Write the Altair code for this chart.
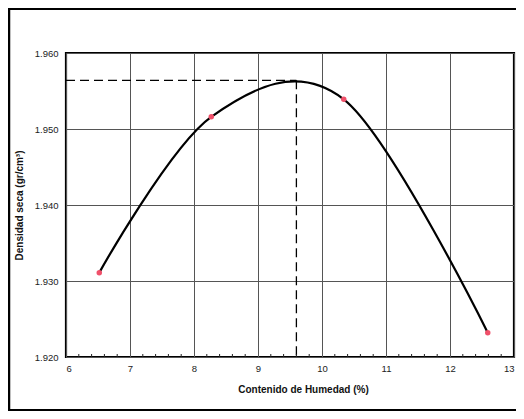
import altair as alt
import pandas as pd

# Measured points (moisture %, dry density g/cm3)
moisture = [6.52, 8.27, 10.34, 12.59]
density = [1.9311, 1.9516, 1.9539, 1.9232]

# Optimum
opt_x = [9.6]
opt_y = [1.9564]

x_ticks = [6, 7, 8, 9, 10, 11, 12, 13]
y_ticks = [1.920, 1.930, 1.940, 1.950, 1.960]
minor_x_ticks = [6.2, 6.4, 6.6, 6.8, 7.2, 7.4, 7.6, 7.8, 8.2, 8.4, 8.6, 8.8,
                 9.2, 9.4, 9.6, 9.8, 10.2, 10.4, 10.6, 10.8, 11.2, 11.4, 11.6, 11.8,
                 12.2, 12.4, 12.6, 12.8]

pts = pd.DataFrame({"x": moisture, "y": density})
opt = pd.DataFrame({"x": opt_x, "y": opt_y, "x0": [6.0], "y0": [1.920]})
minor = pd.DataFrame({"x": minor_x_ticks})

xs = alt.Scale(domain=[6, 13], nice=False, zero=False)
ys = alt.Scale(domain=[1.920, 1.960], nice=False, zero=False)

xaxis = alt.Axis(values=x_ticks, title="Contenido de Humedad (%)", format="d",
                 grid=True, gridColor="#555", gridWidth=1, tickSize=0,
                 labelPadding=6, titlePadding=12, titleX=237,
                 domain=False)
yaxis = alt.Axis(values=y_ticks, title="Densidad seca (gr/cm³)", format=".3f",
                 grid=True, gridColor="#555", gridWidth=1, tickSize=0,
                 labelPadding=8, titlePadding=10, domain=False)

line = alt.Chart(pts).mark_line(color="black", strokeWidth=2.2, interpolate="cardinal").encode(
    x=alt.X("x:Q", scale=xs, axis=xaxis),
    y=alt.Y("y:Q", scale=ys, axis=yaxis),
)

dots = alt.Chart(pts).mark_circle(color="#f0506a", size=30, opacity=1).encode(
    x=alt.X("x:Q", scale=xs),
    y=alt.Y("y:Q", scale=ys),
)

minor_ticks = alt.Chart(minor).mark_rule(color="#222", strokeWidth=1).encode(
    x=alt.X("x:Q", scale=xs), y=alt.value(304), y2=alt.value(301)
)

hdash = alt.Chart(opt).mark_rule(color="black", strokeWidth=1.3, strokeDash=[9, 5]).encode(
    x=alt.X("x0:Q", scale=xs), x2="x:Q", y=alt.Y("y:Q", scale=ys)
)
vdash = alt.Chart(opt).mark_rule(color="black", strokeWidth=1.3, strokeDash=[9, 5]).encode(
    x=alt.X("x:Q", scale=xs), y=alt.Y("y:Q", scale=ys), y2="y0:Q"
)

frame_top = alt.Chart(opt).mark_rule(color="black", strokeWidth=2).encode(
    x=alt.value(-57), x2=alt.value(600), y=alt.value(-44)
)
frame_left = alt.Chart(opt).mark_rule(color="black", strokeWidth=2.5).encode(
    x=alt.value(-57), y=alt.value(-45), y2=alt.value(358)
)
frame_bottom = alt.Chart(opt).mark_rule(color="black", strokeWidth=2).encode(
    x=alt.value(-58), x2=alt.value(600), y=alt.value(357)
)

chart = alt.layer(line, hdash, vdash, minor_ticks, dots, frame_top, frame_left, frame_bottom).properties(
    width=448, height=304,
    autosize=alt.AutoSizeParams(type="none"),
    padding={"left": 58, "top": 45, "right": 2, "bottom": 54},
    background="white",
).configure_view(
    stroke="black", strokeWidth=2.2
).configure_axis(
    labelFont="Liberation Sans", labelFontSize=9.5, labelColor="#222",
    titleFont="Liberation Sans", titleFontSize=10, titleFontWeight="bold", titleColor="#111",
)

chart.save("out.html", embed_options={"renderer": "svg", "actions": False})
